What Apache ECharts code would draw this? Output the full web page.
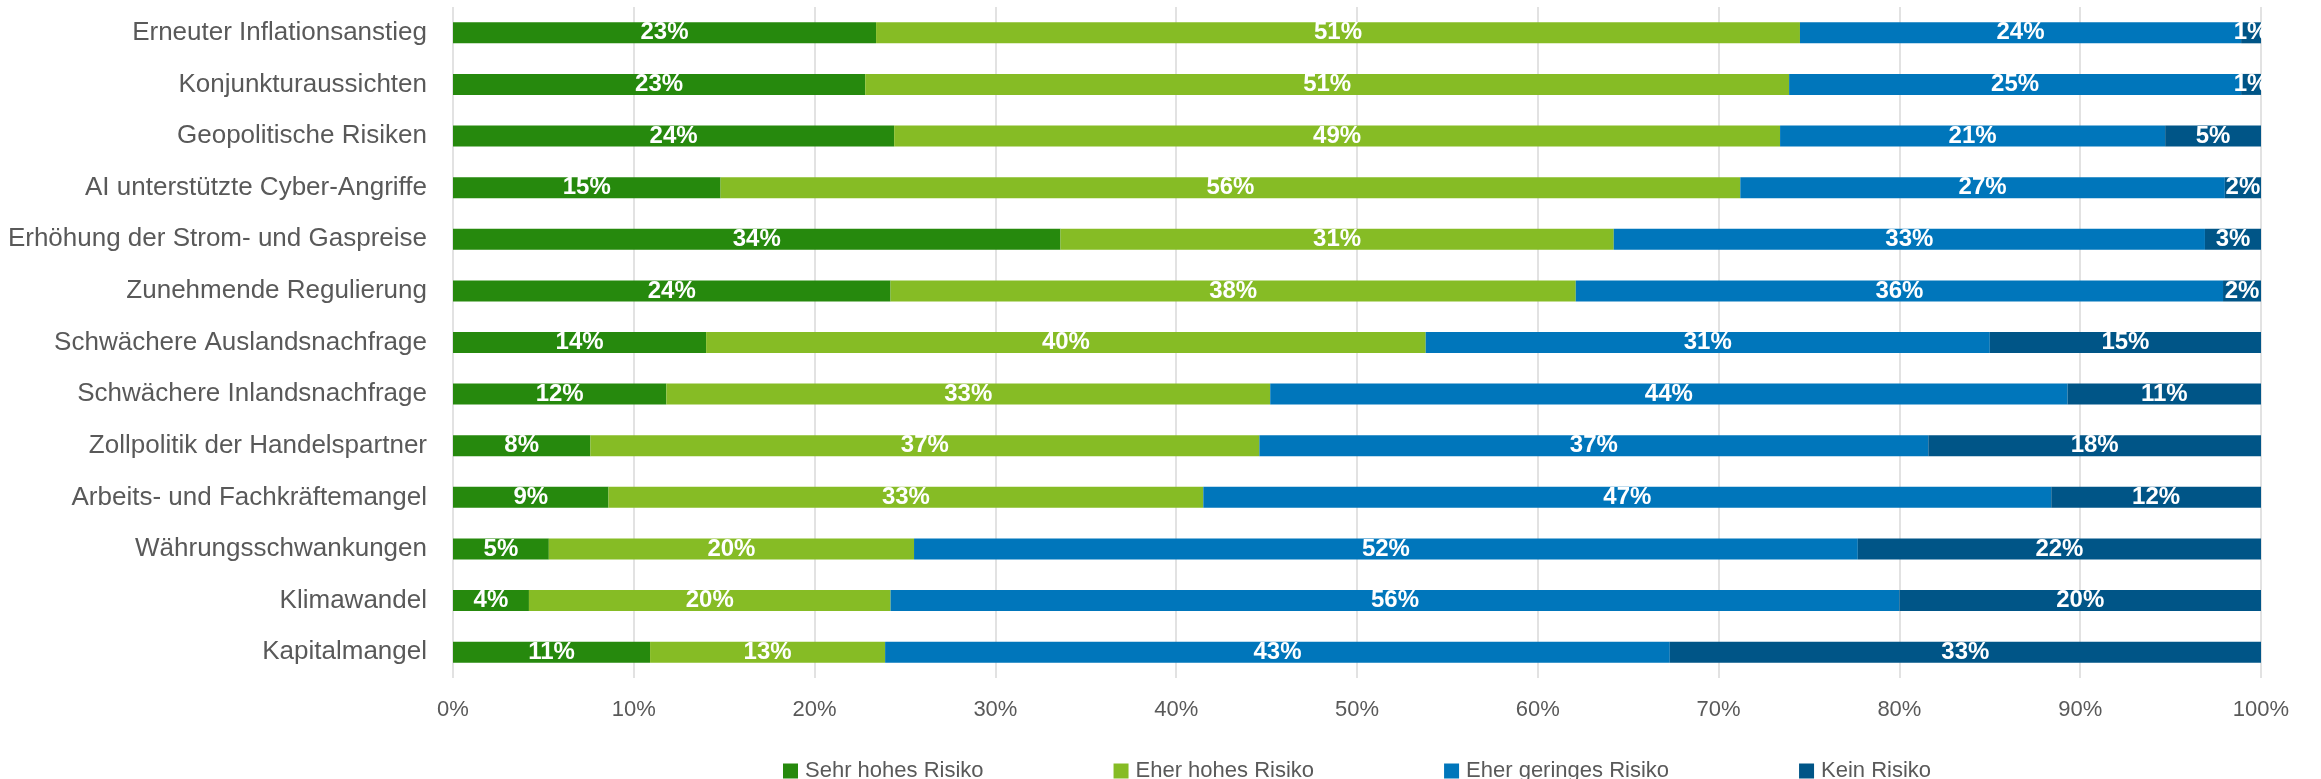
<!DOCTYPE html>
<html>
<head>
<meta charset="utf-8">
<script src="https://cdn.jsdelivr.net/npm/echarts@6/dist/echarts.min.js"></script>
<style>
html,body{margin:0;padding:0;background:#fff;}
#chart{width:2321px;height:779px;}
</style>
</head>
<body>
<div id="chart"></div>
<script>
const categories = [
  "Erneuter Inflationsanstieg",
  "Konjunkturaussichten",
  "Geopolitische Risiken",
  "AI unterstützte Cyber-Angriffe",
  "Erhöhung der Strom- und Gaspreise",
  "Zunehmende Regulierung",
  "Schwächere Auslandsnachfrage",
  "Schwächere Inlandsnachfrage",
  "Zollpolitik der Handelspartner",
  "Arbeits- und Fachkräftemangel",
  "Währungsschwankungen",
  "Klimawandel",
  "Kapitalmangel"
];
const seriesNames = ["Sehr hohes Risiko", "Eher hohes Risiko", "Eher geringes Risiko", "Kein Risiko"];
const sehrHoch   = [23.4, 22.8, 24.4, 14.8, 33.6, 24.2, 14.0, 11.8,  7.6,  8.6,  5.3,  4.2, 10.9];
const eherHoch   = [51.1, 51.1, 49.0, 56.4, 30.6, 37.9, 39.8, 33.4, 37.0, 32.9, 20.2, 20.0, 13.0];
const eherGering = [24.4, 25.0, 21.3, 26.8, 32.7, 35.8, 31.2, 44.1, 37.0, 46.9, 52.2, 55.8, 43.4];
const keinRisiko = [ 1.1,  1.1,  5.3,  2.0,  3.1,  2.1, 15.0, 10.7, 18.4, 11.6, 22.3, 20.0, 32.7];
const xTicks = [0, 10, 20, 30, 40, 50, 60, 70, 80, 90, 100];
const colors = ["#26890D", "#86BC25", "#0076BB", "#005587"];

const values = [sehrHoch, eherHoch, eherGering, keinRisiko];
const chart = echarts.init(document.getElementById('chart'), null, {renderer: 'canvas'});
const font = "'Liberation Sans', Arial, sans-serif";
const option = {
  backgroundColor: '#ffffff',
  animation: false,
  color: colors,
  grid: {left: 453, right: 60, top: 7, bottom: 101, containLabel: false},
  legend: {
    data: seriesNames,
    left: 783,
    top: 760,
    padding: 0,
    itemWidth: 15,
    itemHeight: 15,
    itemGap: 130,
    icon: 'rect',
    textStyle: {fontFamily: font, fontSize: 22, color: '#595959', padding: [0, 0, 0, 2]}
  },
  xAxis: {
    type: 'value',
    min: xTicks[0],
    max: xTicks[xTicks.length - 1],
    interval: 10,
    axisLine: {show: false},
    axisTick: {show: false},
    splitLine: {show: true, lineStyle: {color: '#D9D9D9', width: 1.5}},
    axisLabel: {
      formatter: v => v + '%',
      fontFamily: font, fontSize: 22, color: '#595959', margin: 21
    }
  },
  yAxis: {
    type: 'category',
    data: categories,
    inverse: true,
    axisLine: {show: false},
    axisTick: {show: false},
    axisLabel: {fontFamily: font, fontSize: 26, color: '#595959', margin: 26}
  },
  series: seriesNames.map((name, i) => ({
    name: name,
    type: 'bar',
    stack: 'total',
    barWidth: 21,
    data: values[i],
    itemStyle: {color: colors[i]},
    label: {
      show: true,
      position: 'inside',
      formatter: p => Math.round(p.value) + '%',
      color: '#ffffff',
      fontFamily: font,
      fontWeight: 'bold',
      fontSize: 24
    }
  }))
};
chart.setOption(option);
</script>
</body>
</html>
